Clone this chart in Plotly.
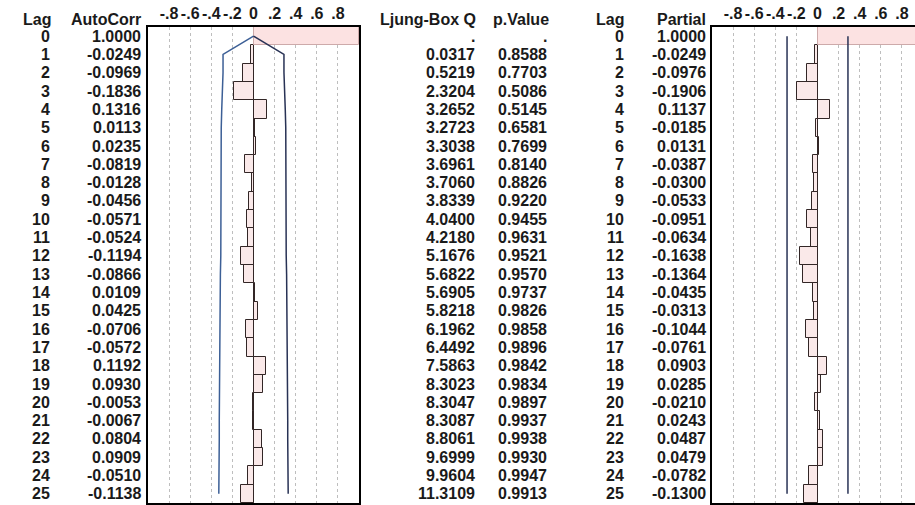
import numpy as np
import plotly.graph_objects as go

# Time series diagnostics: autocorrelation and partial autocorrelation by lag
lags = list(range(26))
autocorr = [1.0000, -0.0249, -0.0969, -0.1836, 0.1316, 0.0113, 0.0235, -0.0819,
            -0.0128, -0.0456, -0.0571, -0.0524, -0.1194, -0.0866, 0.0109, 0.0425,
            -0.0706, -0.0572, 0.1192, 0.0930, -0.0053, -0.0067, 0.0804, 0.0909,
            -0.0510, -0.1138]
ljung_box_q = [None, 0.0317, 0.5219, 2.3204, 3.2652, 3.2723, 3.3038, 3.6961,
               3.7060, 3.8339, 4.0400, 4.2180, 5.1676, 5.6822, 5.6905, 5.8218,
               6.1962, 6.4492, 7.5863, 8.3023, 8.3047, 8.3087, 8.8061, 9.6999,
               9.9604, 11.3109]
p_value = [None, 0.8588, 0.7703, 0.5086, 0.5145, 0.6581, 0.7699, 0.8140,
           0.8826, 0.9220, 0.9455, 0.9631, 0.9521, 0.9570, 0.9737, 0.9826,
           0.9858, 0.9896, 0.9842, 0.9834, 0.9897, 0.9937, 0.9938, 0.9930,
           0.9947, 0.9913]
partial = [1.0000, -0.0249, -0.0976, -0.1906, 0.1137, -0.0185, 0.0131, -0.0387,
           -0.0300, -0.0533, -0.0951, -0.0634, -0.1638, -0.1364, -0.0435, -0.0313,
           -0.1044, -0.0761, 0.0903, 0.0285, -0.0210, 0.0243, 0.0487, 0.0479,
           -0.0782, -0.1300]
tick_vals = [-0.8, -0.6, -0.4, -0.2, 0, 0.2, 0.4, 0.6, 0.8]
tick_text = ["-.8", "-.6", "-.4", "-.2", "0", ".2", ".4", ".6", ".8"]
N_OBS = 48  # series length behind the statistics

# two-sigma limits: Bartlett for ACF, 2/sqrt(n) for PACF
acf_band = [0.0]
for k in range(1, len(lags)):
    s = 1 + 2 * sum(r * r for r in autocorr[1:k])
    acf_band.append(2 * np.sqrt(s / N_OBS))
pacf_band = 2 / np.sqrt(N_OBS)

W, H = 915, 505
FONT = "Liberation Sans, Arial, sans-serif"
FS = 16
TXT = "#1a1a1a"
BOX_TOP, BOX_BOT = 27, 503


def fx(p):
    return p / W


def fy(p):
    return 1 - p / H


BAR_FILL = "rgba(242,200,200,0.4)"
BAR_LINE = "rgb(50,38,38)"
LAG0_FILL = "rgb(252,226,226)"
LAG0_LINE = "rgb(205,170,170)"
BAND_L = "rgb(60,95,150)"
BAND_R = "rgb(40,50,85)"

fig = go.Figure()

panels = [("x", "y", autocorr), ("x2", "y2", partial)]
for xa, ya, vals in panels:
    fig.add_trace(go.Bar(x=vals[1:], y=lags[1:], orientation="h", width=1, base=0,
                         marker=dict(color=BAR_FILL, line=dict(color=BAR_LINE, width=1)),
                         xaxis=xa, yaxis=ya, hoverinfo="skip"))
    fig.add_trace(go.Bar(x=[vals[0]], y=[lags[0]], orientation="h", width=1, base=0,
                         marker=dict(color=LAG0_FILL, line=dict(color=LAG0_LINE, width=1)),
                         xaxis=xa, yaxis=ya, hoverinfo="skip"))

# ACF confidence curve, drawn as its lower and upper halves
lo_x = [-b for b in acf_band]
hi_x = acf_band
fig.add_trace(go.Scatter(x=lo_x, y=lags, mode="lines", line=dict(color=BAND_L, width=1.5),
                         xaxis="x", yaxis="y", hoverinfo="skip"))
fig.add_trace(go.Scatter(x=hi_x, y=lags, mode="lines", line=dict(color=BAND_R, width=1.5),
                         xaxis="x", yaxis="y", hoverinfo="skip"))
# PACF limits
fig.add_trace(go.Scatter(x=[-pacf_band, -pacf_band, None, pacf_band, pacf_band],
                         y=[lags[0], lags[-1], None, lags[0], lags[-1]],
                         mode="lines", line=dict(color=BAND_R, width=1.5),
                         xaxis="x2", yaxis="y2", hoverinfo="skip"))

ann = []


def put(text, xr, y, yref="y"):
    ann.append(dict(text=text, x=fx(xr), xref="paper", y=y, yref=yref,
                    xanchor="right", yanchor="middle", showarrow=False,
                    font=dict(family=FONT, size=FS, color=TXT, weight="bold")))


hy = fy(19)
put("Lag", 53, hy, "paper")
put("AutoCorr", 143, hy, "paper")
put("Ljung-Box Q", 478, hy, "paper")
put("p.Value", 551, hy, "paper")
put("Lag", 626, hy, "paper")
put("Partial", 708, hy, "paper")

for i, lag in enumerate(lags):
    put(str(lag), 52, lag)
    put(f"{autocorr[i]:.4f}", 143, lag)
    put("." if ljung_box_q[i] is None else f"{ljung_box_q[i]:.4f}", 477, lag)
    put("." if p_value[i] is None else f"{p_value[i]:.4f}", 549, lag)
    put(str(lag), 626, lag)
    put(f"{partial[i]:.4f}", 708, lag)

xcommon = dict(side="top", tickvals=tick_vals, ticktext=tick_text, ticks="",
               tickfont=dict(family=FONT, size=FS, color=TXT, weight="bold"),
               showgrid=True, griddash="dot", gridcolor="rgb(190,190,190)", gridwidth=1,
               zeroline=True, zerolinecolor="rgb(80,80,80)", zerolinewidth=1,
               showline=True, linecolor="black", linewidth=1.5, mirror=True,
               fixedrange=True)
ycommon = dict(range=[25.5, -0.5], showticklabels=False, ticks="", showgrid=False,
               zeroline=False, domain=[fy(BOX_BOT), fy(BOX_TOP)],
               showline=True, linecolor="black", linewidth=1.5, fixedrange=True)

left_dom = [fx(148), fx(359)]
scale = 2.0 / (359 - 148)
right_dom = [fx(712), 1.0]
right_max = -1 + (W - 712) * scale

fig.update_layout(
    width=W, height=H,
    margin=dict(l=0, r=0, t=0, b=0),
    paper_bgcolor="white", plot_bgcolor="white",
    showlegend=False, barmode="overlay", bargap=0,
    xaxis=dict(domain=left_dom, range=[-1, 1], anchor="y", **xcommon),
    yaxis=dict(anchor="x", mirror=True, **ycommon),
    xaxis2=dict(domain=right_dom, range=[-1, right_max], anchor="y2", **xcommon),
    yaxis2=dict(anchor="x2", mirror=False, matches="y", **ycommon),
    annotations=ann,
)

fig.write_html("out.html")
